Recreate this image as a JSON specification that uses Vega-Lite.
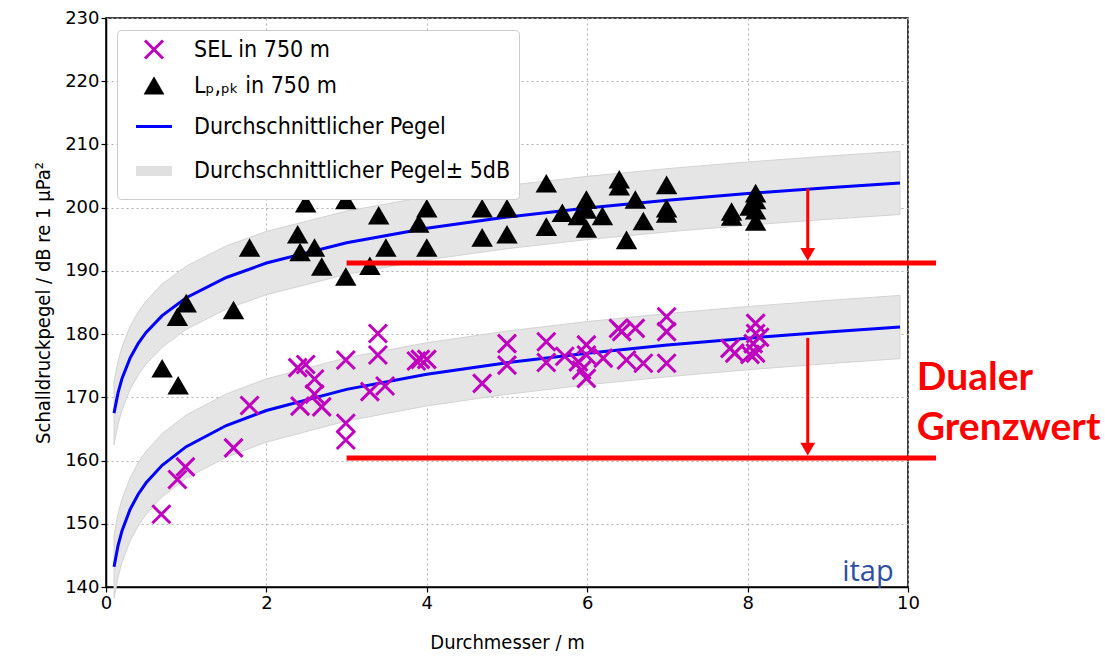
{
  "$schema": "https://vega.github.io/schema/vega-lite/v6.json",
  "width": 802,
  "height": 569,
  "autosize": {"type": "none"},
  "padding": {"left": 106, "top": 18, "right": 197, "bottom": 70},
  "background": "white",
  "config": {
    "view": {"stroke": "black", "strokeWidth": 1.5},
    "axis": {
      "domainColor": "black", "domainWidth": 1.5,
      "tickColor": "black", "tickSize": 5, "tickWidth": 1.2,
      "labelFont": "DejaVu Sans", "labelFontSize": 18, "labelColor": "black", "labelFlush": false,
      "titleFont": "DejaVu Sans Condensed, DejaVu Sans", "titleFontSize": 20, "titleFontWeight": "normal", "titleColor": "black",
      "gridColor": "#b0b0b0", "gridDash": [2, 3], "gridWidth": 1, "gridOpacity": 1
    },
    "legend": {"symbolStrokeWidth": 3, "labelLimit": 600}
  },
  "datasets": {
    "lpk": [
      {"d": 0.7, "v": 174.6}, {"d": 0.9, "v": 171.9}, {"d": 0.89, "v": 182.75}, {"d": 1.0, "v": 184.9},
      {"d": 1.59, "v": 183.8}, {"d": 1.79, "v": 193.7}, {"d": 2.39, "v": 195.8}, {"d": 2.49, "v": 200.7},
      {"d": 2.42, "v": 193.0}, {"d": 2.6, "v": 193.7}, {"d": 2.69, "v": 190.7}, {"d": 2.99, "v": 201.2},
      {"d": 2.99, "v": 189.1}, {"d": 3.4, "v": 202.9}, {"d": 3.4, "v": 198.8}, {"d": 3.29, "v": 190.8},
      {"d": 3.49, "v": 193.7}, {"d": 4.0, "v": 199.9}, {"d": 3.9, "v": 197.5}, {"d": 4.0, "v": 193.7},
      {"d": 4.69, "v": 199.9}, {"d": 4.69, "v": 195.3}, {"d": 5.0, "v": 199.9}, {"d": 5.0, "v": 195.8},
      {"d": 5.49, "v": 203.85}, {"d": 5.49, "v": 197.0}, {"d": 5.69, "v": 199.2}, {"d": 5.89, "v": 198.7},
      {"d": 5.99, "v": 201.3}, {"d": 5.99, "v": 199.7}, {"d": 5.99, "v": 196.7}, {"d": 6.19, "v": 198.7},
      {"d": 6.4, "v": 204.5}, {"d": 6.4, "v": 203.4}, {"d": 6.49, "v": 194.9}, {"d": 6.6, "v": 201.3},
      {"d": 6.7, "v": 197.9}, {"d": 6.99, "v": 203.6}, {"d": 6.99, "v": 199.9}, {"d": 6.99, "v": 199.1},
      {"d": 7.8, "v": 199.4}, {"d": 7.8, "v": 198.6}, {"d": 8.1, "v": 202.3}, {"d": 8.1, "v": 201.2},
      {"d": 8.03, "v": 200.2}, {"d": 8.1, "v": 199.6}, {"d": 8.1, "v": 197.8}
    ],
    "sel": [
      {"d": 0.69, "v": 151.5}, {"d": 0.89, "v": 157.0}, {"d": 0.99, "v": 159.0}, {"d": 1.59, "v": 162.0},
      {"d": 1.79, "v": 168.7}, {"d": 2.39, "v": 174.7}, {"d": 2.49, "v": 175.2}, {"d": 2.42, "v": 168.6},
      {"d": 2.6, "v": 172.9}, {"d": 2.6, "v": 170.5}, {"d": 2.69, "v": 168.5}, {"d": 2.99, "v": 175.9},
      {"d": 2.99, "v": 165.9}, {"d": 2.99, "v": 163.25}, {"d": 3.39, "v": 180.1}, {"d": 3.39, "v": 176.7},
      {"d": 3.29, "v": 170.9}, {"d": 3.48, "v": 171.8}, {"d": 3.87, "v": 175.75}, {"d": 4.0, "v": 176.0},
      {"d": 3.92, "v": 176.0}, {"d": 4.69, "v": 172.2}, {"d": 5.0, "v": 178.5}, {"d": 5.0, "v": 175.1},
      {"d": 5.49, "v": 178.8}, {"d": 5.49, "v": 175.5}, {"d": 5.72, "v": 176.5}, {"d": 5.89, "v": 175.6},
      {"d": 5.99, "v": 178.3}, {"d": 5.99, "v": 176.7}, {"d": 5.93, "v": 174.3}, {"d": 5.99, "v": 173.0},
      {"d": 6.2, "v": 176.2}, {"d": 6.39, "v": 180.9}, {"d": 6.43, "v": 180.4}, {"d": 6.49, "v": 175.9},
      {"d": 6.6, "v": 180.9}, {"d": 6.7, "v": 175.4}, {"d": 6.99, "v": 182.75}, {"d": 6.99, "v": 180.4},
      {"d": 6.99, "v": 175.4}, {"d": 7.78, "v": 177.75}, {"d": 7.84, "v": 177.0}, {"d": 8.1, "v": 181.7},
      {"d": 8.1, "v": 180.1}, {"d": 8.07, "v": 178.5}, {"d": 8.1, "v": 177.0}, {"d": 8.03, "v": 176.8},
      {"d": 8.15, "v": 179.5}
    ],
    "curves": [
      {"grp": "lpk", "d": 0.1, "m": 167.5, "lo": 162.5, "hi": 172.5},
      {"grp": "lpk", "d": 0.15, "m": 170.71, "lo": 165.71, "hi": 175.71},
      {"grp": "lpk", "d": 0.2, "m": 172.99, "lo": 167.99, "hi": 177.99},
      {"grp": "lpk", "d": 0.3, "m": 176.2, "lo": 171.2, "hi": 181.2},
      {"grp": "lpk", "d": 0.4, "m": 178.49, "lo": 173.49, "hi": 183.49},
      {"grp": "lpk", "d": 0.5, "m": 180.26, "lo": 175.26, "hi": 185.26},
      {"grp": "lpk", "d": 0.7, "m": 182.92, "lo": 177.92, "hi": 187.92},
      {"grp": "lpk", "d": 1.0, "m": 185.75, "lo": 180.75, "hi": 190.75},
      {"grp": "lpk", "d": 1.5, "m": 188.96, "lo": 183.96, "hi": 193.96},
      {"grp": "lpk", "d": 2.0, "m": 191.24, "lo": 186.24, "hi": 196.24},
      {"grp": "lpk", "d": 3.0, "m": 194.46, "lo": 189.46, "hi": 199.46},
      {"grp": "lpk", "d": 4.0, "m": 196.74, "lo": 191.74, "hi": 201.74},
      {"grp": "lpk", "d": 5.0, "m": 198.51, "lo": 193.51, "hi": 203.51},
      {"grp": "lpk", "d": 6.0, "m": 199.95, "lo": 194.95, "hi": 204.95},
      {"grp": "lpk", "d": 7.0, "m": 201.17, "lo": 196.17, "hi": 206.17},
      {"grp": "lpk", "d": 8.0, "m": 202.23, "lo": 197.23, "hi": 207.23},
      {"grp": "lpk", "d": 9.0, "m": 203.16, "lo": 198.16, "hi": 208.16},
      {"grp": "lpk", "d": 9.9, "m": 203.92, "lo": 198.92, "hi": 208.92},
      {"grp": "sel", "d": 0.1, "m": 143.2, "lo": 138.2, "hi": 148.2},
      {"grp": "sel", "d": 0.15, "m": 146.54, "lo": 141.54, "hi": 151.54},
      {"grp": "sel", "d": 0.2, "m": 148.92, "lo": 143.92, "hi": 153.92},
      {"grp": "sel", "d": 0.3, "m": 152.26, "lo": 147.26, "hi": 157.26},
      {"grp": "sel", "d": 0.4, "m": 154.64, "lo": 149.64, "hi": 159.64},
      {"grp": "sel", "d": 0.5, "m": 156.48, "lo": 151.48, "hi": 161.48},
      {"grp": "sel", "d": 0.7, "m": 159.26, "lo": 154.26, "hi": 164.26},
      {"grp": "sel", "d": 1.0, "m": 162.2, "lo": 157.2, "hi": 167.2},
      {"grp": "sel", "d": 1.5, "m": 165.54, "lo": 160.54, "hi": 170.54},
      {"grp": "sel", "d": 2.0, "m": 167.92, "lo": 162.92, "hi": 172.92},
      {"grp": "sel", "d": 3.0, "m": 171.26, "lo": 166.26, "hi": 176.26},
      {"grp": "sel", "d": 4.0, "m": 173.64, "lo": 168.64, "hi": 178.64},
      {"grp": "sel", "d": 5.0, "m": 175.48, "lo": 170.48, "hi": 180.48},
      {"grp": "sel", "d": 6.0, "m": 176.98, "lo": 171.98, "hi": 181.98},
      {"grp": "sel", "d": 7.0, "m": 178.26, "lo": 173.26, "hi": 183.26},
      {"grp": "sel", "d": 8.0, "m": 179.36, "lo": 174.36, "hi": 184.36},
      {"grp": "sel", "d": 9.0, "m": 180.33, "lo": 175.33, "hi": 185.33},
      {"grp": "sel", "d": 9.9, "m": 181.12, "lo": 176.12, "hi": 186.12}
    ],
    "limits": [
      {"x1": 3.0, "x2": 10.35, "y": 191.25},
      {"x1": 3.0, "x2": 10.35, "y": 160.4}
    ],
    "arrows": [
      {"x": 8.75, "top": 203.0, "bottom": 193.0, "head": 192.6},
      {"x": 8.75, "top": 179.4, "bottom": 162.3, "head": 161.8}
    ],
    "labels": [
      {"x": 10.11, "y": 173.05, "t": "Dualer"},
      {"x": 10.11, "y": 165.15, "t": "Grenzwert"}
    ],
    "logo": [{"x": 9.5, "y": 142.3, "t": "itap"}]
  },
  "layer": [
    {
      "data": {"name": "curves"},
      "mark": {"type": "area", "fill": "#e5e5e5", "stroke": "#d3d3d3", "strokeWidth": 1},
      "encoding": {
        "x": {"field": "d", "type": "quantitative", "scale": {"domain": [0, 10], "nice": false, "zero": false, "padding": 0},
              "axis": {"values": [0, 2, 4, 6, 8, 10], "format": "d", "title": "Durchmesser / m", "grid": true, "titlePadding": 20}},
        "y": {"field": "lo", "type": "quantitative", "scale": {"domain": [140, 230], "nice": false, "zero": false, "padding": 0},
              "axis": {"values": [140, 150, 160, 170, 180, 190, 200, 210, 220, 230], "format": "d", "title": "Schalldruckpegel / dB re 1 μPa²", "grid": true, "titlePadding": 11}},
        "y2": {"field": "hi"},
        "detail": {"field": "grp"},
        "color": {
          "datum": "Durchschnittlicher Pegel± 5dB",
          "scale": {
            "domain": ["SEL in 750 m", "Lₚ,ₚₖ in 750 m", "Durchschnittlicher Pegel", "Durchschnittlicher Pegel± 5dB"],
            "range": ["#bf00bf", "black", "blue", "#e0e0e0"]
          },
          "legend": {
            "title": null,
            "orient": "none", "legendX": 11, "legendY": 12,
            "padding": 8, "symbolOffset": 6, "labelOffset": 17,
            "rowPadding": 9, "labelLimit": 600,
            "labelFont": "DejaVu Sans Condensed, DejaVu Sans", "labelFontSize": 23, "labelColor": "black",
            "fillColor": "white", "strokeColor": "#cccccc", "cornerRadius": 4, "symbolOpacity": 1
          }
        }
      }
    },
    {
      "data": {"name": "curves"},
      "mark": {"type": "line", "strokeWidth": 3},
      "encoding": {
        "x": {"field": "d", "type": "quantitative"},
        "y": {"field": "m", "type": "quantitative"},
        "detail": {"field": "grp"},
        "color": {"datum": "Durchschnittlicher Pegel"}
      }
    },
    {
      "data": {"name": "sel"},
      "mark": {"type": "point", "filled": false, "opacity": 1},
      "encoding": {
        "x": {"field": "d", "type": "quantitative"},
        "y": {"field": "v", "type": "quantitative"},
        "color": {"datum": "SEL in 750 m"},
        "shape": {"datum": "SEL in 750 m", "scale": {
          "domain": ["SEL in 750 m", "Lₚ,ₚₖ in 750 m", "Durchschnittlicher Pegel", "Durchschnittlicher Pegel± 5dB"],
          "range": ["M-1,-1L1,1M-1,1L1,-1", "triangle-up", "stroke", "stroke"]}},
        "strokeWidth": {"datum": "SEL in 750 m", "scale": {"type": "ordinal",
          "domain": ["SEL in 750 m", "Lₚ,ₚₖ in 750 m", "Durchschnittlicher Pegel", "Durchschnittlicher Pegel± 5dB"],
          "range": [3, 0.5, 3, 10]}},
        "size": {"datum": "SEL in 750 m", "scale": {"type": "ordinal",
          "domain": ["SEL in 750 m", "Lₚ,ₚₖ in 750 m", "Durchschnittlicher Pegel", "Durchschnittlicher Pegel± 5dB"],
          "range": [324, 400, 1296, 1296]}}
      }
    },
    {
      "data": {"name": "lpk"},
      "mark": {"type": "point", "filled": true, "size": 460, "opacity": 1},
      "encoding": {
        "x": {"field": "d", "type": "quantitative"},
        "y": {"field": "v", "type": "quantitative"},
        "color": {"datum": "Lₚ,ₚₖ in 750 m"},
        "shape": {"datum": "Lₚ,ₚₖ in 750 m"}
      }
    },
    {
      "data": {"name": "limits"},
      "mark": {"type": "rule", "color": "#ff0000", "strokeWidth": 5},
      "encoding": {
        "x": {"field": "x1", "type": "quantitative"},
        "x2": {"field": "x2"},
        "y": {"field": "y", "type": "quantitative"}
      }
    },
    {
      "data": {"name": "arrows"},
      "mark": {"type": "rule", "color": "#ff0000", "strokeWidth": 3},
      "encoding": {
        "x": {"field": "x", "type": "quantitative"},
        "y": {"field": "top", "type": "quantitative"},
        "y2": {"field": "bottom"}
      }
    },
    {
      "data": {"name": "arrows"},
      "mark": {"type": "point", "shape": "triangle-down", "filled": true, "color": "#ff0000", "size": 220, "opacity": 1},
      "encoding": {
        "x": {"field": "x", "type": "quantitative"},
        "y": {"field": "head", "type": "quantitative"}
      }
    },
    {
      "data": {"name": "labels"},
      "mark": {"type": "text", "font": "Lato", "fontWeight": "bold", "fontSize": 39, "color": "#ff0000", "align": "left", "baseline": "middle"},
      "encoding": {
        "x": {"field": "x", "type": "quantitative"},
        "y": {"field": "y", "type": "quantitative"},
        "text": {"field": "t"}
      }
    },
    {
      "data": {"name": "logo"},
      "mark": {"type": "text", "font": "Open Sans", "fontSize": 29, "color": "#2f4f9f", "align": "center", "baseline": "middle"},
      "encoding": {
        "x": {"field": "x", "type": "quantitative"},
        "y": {"field": "y", "type": "quantitative"},
        "text": {"field": "t"}
      }
    }
  ]
}
